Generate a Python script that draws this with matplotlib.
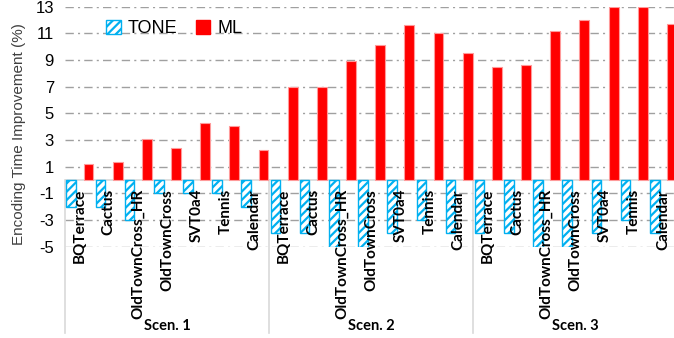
import matplotlib
matplotlib.use("Agg")
import matplotlib.pyplot as plt
from matplotlib import transforms
from matplotlib.patches import Patch
import numpy as np

scenarios = ["Scen. 1", "Scen. 2", "Scen. 3"]
sequences = ["BQTerrace", "Cactus", "OldTownCross_HR", "OldTownCross",
             "SVT0a4", "Tennis", "Calendar"]

# encoding time improvement (%) per sequence, scenario by scenario
tone = [-2, -2, -3, -1, -1, -1, -2,
        -4, -4, -5, -5, -4, -3, -4,
        -4, -4, -5, -5, -4, -3, -4]
ml = [1.2, 1.35, 3.05, 2.4, 4.3, 4.05, 2.25,
      7.0, 7.0, 8.9, 10.15, 11.6, 11.0, 9.55,
      8.5, 8.65, 11.2, 12.0, 13.0, 13.0, 11.7]
yticks = [-5, -3, -1, 1, 3, 5, 7, 9, 11, 13]

plt.rcParams['hatch.linewidth'] = 1.6
plt.rcParams['hatch.color'] = '#00B0F0'

W, H = 674, 338
fig = plt.figure(figsize=(W / 100, H / 100), dpi=100)
ax = fig.add_axes([65 / W, 1 - 246.7 / H, 612.6 / W, 240 / H])

n = len(tone)
x = np.arange(n)
ax.bar(x + 0.215, tone, width=0.33, color='white', edgecolor='#00B0F0',
       hatch='////', linewidth=1.0, zorder=3)
ax.bar(x + 0.805, ml, width=0.34, color='#FF0000', edgecolor='#FF9A9A',
       linewidth=0.8, zorder=3)

ax.set_xlim(0, n)
ax.set_ylim(-5, 13)
ax.set_yticks(yticks)
ax.set_yticklabels([str(v) for v in yticks], fontsize=12,
                   family='Liberation Sans')
ax.tick_params(axis='y', length=0, pad=8)
ax.set_xticks([])
for s in ax.spines.values():
    s.set_visible(False)
for v in yticks:
    ax.axhline(v, color='#A0A0A0', lw=1.0, ls='-.', dashes=(6, 3, 1.5, 3),
               zorder=1)
ax.axhline(0, color='#D9D9D9', lw=1.2, zorder=2)

ax.set_ylabel("Encoding Time Improvement (%)", fontsize=11,
              family='Liberation Sans', color='#404040')
ax.yaxis.set_label_coords(-0.063, 0.47)

# category labels under the zero line, group separators and group names
tr = transforms.blended_transform_factory(ax.transData, fig.transFigure)
for i in range(n):
    ax.text(i + 0.5, 1 - 189 / H, sequences[i % len(sequences)], transform=tr,
            rotation=90, ha='center', va='top', fontsize=11,
            fontweight='bold', family='Lato')
for k in range(len(scenarios) + 1):
    ax.plot([7 * k, 7 * k], [1 - 180 / H, 1 - 333 / H], transform=tr,
            color='#D9D9D9', lw=1.2, clip_on=False)
for k, name in enumerate(scenarios):
    ax.text(7 * k + 3.5, 1 - 326 / H, name, transform=tr, ha='center',
            va='center', fontsize=10.5, fontweight='bold', family='Lato')

handles = [Patch(facecolor='white', edgecolor='#00B0F0', hatch='////',
                 linewidth=1.0, label='TONE'),
           Patch(facecolor='#FF0000', edgecolor='#FF0000', label='ML')]
ax.legend(handles=handles, loc='upper left', ncol=2, frameon=False,
          bbox_to_anchor=(90 / W, 1 - 4 / H), bbox_transform=fig.transFigure,
          handlelength=0.8, handleheight=0.8, handletextpad=0.4,
          columnspacing=1.0, prop={'family': 'Liberation Sans', 'size': 13})

fig.savefig("out.png", dpi=100)
